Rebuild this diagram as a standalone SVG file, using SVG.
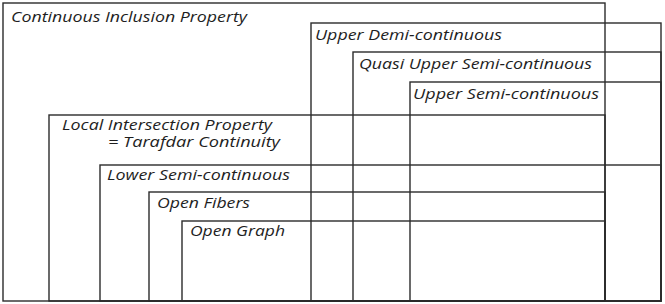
<svg xmlns="http://www.w3.org/2000/svg" width="665" height="304" viewBox="0 0 665 304">
<style>
rect.b{fill:none;stroke:#2b2b2b;stroke-width:1.4}
text{font-family:"Open Sans","Noto Sans","DejaVu Sans",sans-serif;font-style:italic;font-size:14px;fill:#1e1e1e}
</style>
<rect width="665" height="304" fill="#fff"/>
<g id="cip"><rect class="b" x="3" y="3" width="602" height="298"/><text x="11" y="22" textLength="236" lengthAdjust="spacingAndGlyphs">Continuous Inclusion Property</text></g>
<g id="udc"><rect class="b" x="311" y="23" width="350" height="278"/><text x="315" y="40" textLength="187" lengthAdjust="spacingAndGlyphs">Upper Demi-continuous</text></g>
<g id="qusc"><rect class="b" x="353" y="52" width="308" height="249"/><text x="359" y="69" textLength="233" lengthAdjust="spacingAndGlyphs">Quasi Upper Semi-continuous</text></g>
<g id="usc"><rect class="b" x="410" y="82" width="251" height="219"/><text x="413" y="99" textLength="186" lengthAdjust="spacingAndGlyphs">Upper Semi-continuous</text></g>
<g id="lip"><rect class="b" x="49" y="115" width="556" height="186"/><text x="62" y="130" textLength="210" lengthAdjust="spacingAndGlyphs">Local Intersection Property</text><text x="108" y="147" textLength="172" lengthAdjust="spacingAndGlyphs">= Tarafdar Continuity</text></g>
<g id="lsc"><rect class="b" x="100" y="165" width="561" height="136"/><text x="107" y="180" textLength="183" lengthAdjust="spacingAndGlyphs">Lower Semi-continuous</text></g>
<g id="of"><rect class="b" x="149" y="192" width="456" height="109"/><text x="157" y="208" textLength="93" lengthAdjust="spacingAndGlyphs">Open Fibers</text></g>
<g id="og"><rect class="b" x="182" y="221" width="423" height="80"/><text x="190" y="236" textLength="95" lengthAdjust="spacingAndGlyphs">Open Graph</text></g>
<g id="connectors"></g>
</svg>
